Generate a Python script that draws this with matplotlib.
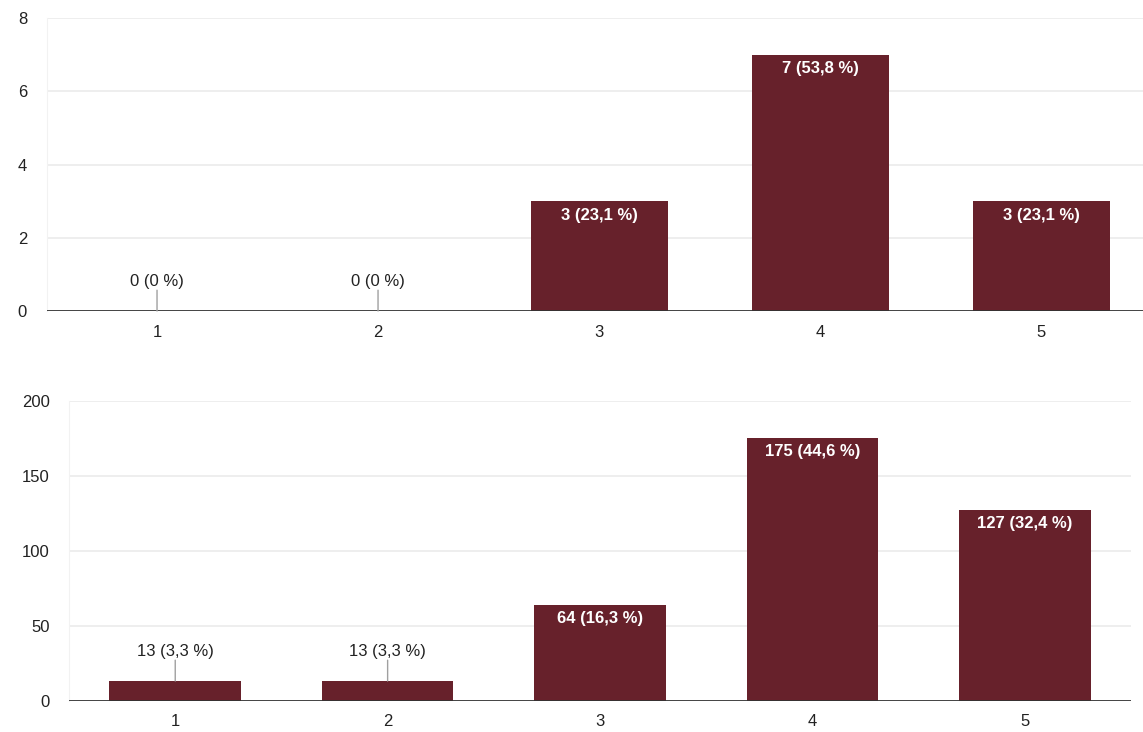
import numpy as np
import matplotlib.pyplot as plt

plt.rcParams['font.family'] = ['Liberation Sans', 'DejaVu Sans']

# Chart data
categories = ['1', '2', '3', '4', '5']
counts_top = [0, 0, 3, 7, 3]
pct_top = ['0', '0', '23,1', '53,8', '23,1']
counts_bottom = [13, 13, 64, 175, 127]
pct_bottom = ['3,3', '3,3', '16,3', '44,6', '32,4']

BarColor = '#67212b'
GridColor = '#ebebeb'


def Plot_Bars(ax, counts, pcts, yticks, threshold):
    x = np.arange(1, len(categories) + 1)
    ax.bar(x, counts, width=0.62, color=BarColor, zorder=2)
    ax.set_xlim(0.5, len(categories) + 0.5)
    ax.set_ylim(yticks[0], yticks[-1])
    ax.set_yticks(yticks)
    ax.set_xticks(x)
    ax.set_xticklabels(categories)
    ax.grid(axis='y', color=GridColor, linewidth=1.2, zorder=0)
    ax.set_axisbelow(True)
    for s in ['top', 'right', 'bottom']:
        ax.spines[s].set_visible(False)
    ax.spines['left'].set_color('#f2f2f2')
    ax.axhline(0, color='#333333', linewidth=2.0, zorder=3)
    ax.tick_params(axis='both', length=0, labelsize=12, colors='#222222')
    ax.tick_params(axis='x', pad=10)
    ax.tick_params(axis='y', pad=14)

    for xi, c, p in zip(x, counts, pcts):
        label = '%d (%s %%)' % (c, p)
        if c < threshold:
            # small bar: label above with leader line
            ax.annotate('', xy=(xi, c), xytext=(0, 15), textcoords='offset points',
                        arrowprops=dict(arrowstyle='-', color='#a0a0a0', lw=1.0,
                                        shrinkA=0, shrinkB=0), zorder=4)
            ax.annotate(label, xy=(xi, c), xytext=(0, 21), textcoords='offset points',
                        ha='center', va='center', fontsize=12, color='#222222')
        else:
            ax.annotate(label, xy=(xi, c), xytext=(0, -10), textcoords='offset points',
                        ha='center', va='center', fontsize=12, color='white',
                        fontweight='bold', zorder=4)


fig = plt.figure(figsize=(11.43, 7.32), dpi=100)
ax1 = fig.add_axes([0.0407, 0.5751, 0.9668, 0.4003])
ax2 = fig.add_axes([0.0604, 0.0430, 0.9291, 0.4098])

Plot_Bars(ax1, counts_top, pct_top, [0, 2, 4, 6, 8], 1)
Plot_Bars(ax2, counts_bottom, pct_bottom, [0, 50, 100, 150, 200], 20)

fig.savefig('out.png', dpi=100)
